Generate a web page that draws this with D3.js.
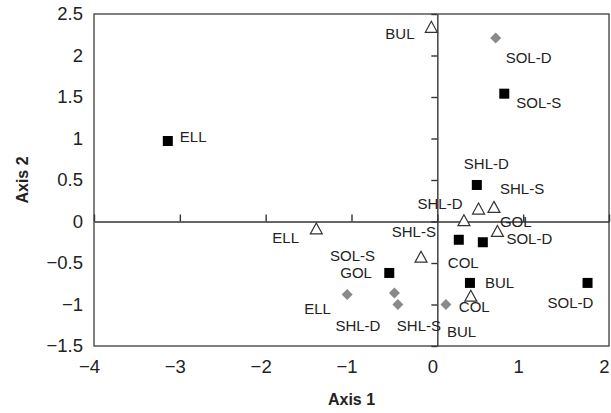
<!DOCTYPE html>
<html>
<head>
<meta charset="utf-8">
<script src="https://cdn.jsdelivr.net/npm/d3@7"></script>
<style>
  body { margin: 0; background: #fff; }
  text { font-family: "Liberation Sans", Arial, sans-serif; }
</style>
</head>
<body>
<svg id="chart" width="611" height="413"></svg>
<script>
// ordination scores, one array per sample type
const squareSites = ['ELL', 'SOL-S', 'SHL-D', 'SHL-S', 'COL', 'GOL', 'BUL', 'SOL-D'];
const squareAxis1 = [-3.14, 0.78, 0.46, 0.25, 0.53, -0.56, 0.38, 1.75];
const squareAxis2 = [0.97, 1.54, 0.44, -0.22, -0.25, -0.62, -0.74, -0.74];

const triangleSites = ['BUL', 'ELL', 'SHL-D', 'SHL-S', 'GOL', 'SOL-D', 'SOL-S', 'COL'];
const triangleAxis1 = [-0.07, -1.41, 0.48, 0.66, 0.31, 0.70, -0.19, 0.39];
const triangleAxis2 = [2.34, -0.09, 0.15, 0.17, 0.01, -0.12, -0.43, -0.90];

const diamondSites = ['SOL-D', 'ELL', 'SHL-D', 'SHL-S', 'BUL'];
const diamondAxis1 = [0.68, -1.05, -0.50, -0.46, 0.10];
const diamondAxis2 = [2.21, -0.88, -0.86, -1.00, -1.00];

const xTicks = [-4, -3, -2, -1, 0, 1, 2];
const yTicks = [-1.5, -1, -0.5, 0, 0.5, 1, 1.5, 2, 2.5];

// pixel nudges for the point labels (same order as the site arrays)
const squareNudge = [[12, -4], [12, 9], [-13, -21], [-67, -8], [-35, 20], [-49, 0], [15, 0], [-40, 20]];
const triangleNudge = [[-46, 6], [-44, 9], [-61, -6], [6, -19], [36, 1], [9, 7], [-91, -2], [-12, 10]];
const diamondNudge = [[10, 19], [-43, 14], [-59, 33], [-1, 21], [1, 27]];

const svg = d3.select('#chart');
const margin = {left: 94, right: 2, top: 14, bottom: 67};
const W = 611, H = 413;

const x = d3.scaleLinear().domain([-4, 2]).range([margin.left, W - margin.right]);
const y = d3.scaleLinear().domain([-1.5, 2.5]).range([H - margin.bottom, margin.top]);

const fmt = d => (d < 0 ? '\u2212' : '') + Math.abs(d);

// tick labels sit outside the frame
svg.append('g')
    .attr('transform', `translate(${margin.left},0)`)
    .call(d3.axisLeft(y).tickValues(yTicks).tickFormat(fmt).tickSize(0).tickPadding(11))
    .call(g => g.select('.domain').remove())
    .call(g => g.selectAll('.tick text')
        .attr('font-size', 18.5).attr('fill', '#222')
        .attr('font-family', '"Liberation Sans", Arial, sans-serif'));

svg.append('g')
    .attr('transform', `translate(-5,${H - margin.bottom})`)
    .call(d3.axisBottom(x).tickValues(xTicks).tickFormat(fmt).tickSize(0).tickPadding(14))
    .call(g => g.select('.domain').remove())
    .call(g => g.selectAll('.tick text')
        .attr('font-size', 18.5).attr('fill', '#222')
        .attr('font-family', '"Liberation Sans", Arial, sans-serif'));

// frame
svg.append('rect')
    .attr('x', margin.left).attr('y', margin.top)
    .attr('width', W - margin.right - margin.left)
    .attr('height', H - margin.bottom - margin.top)
    .attr('fill', 'none').attr('stroke', '#555').attr('stroke-width', 1.5);

// zero lines with small ticks
svg.append('g')
    .attr('transform', `translate(0,${y(0)})`)
    .call(d3.axisTop(x).tickValues(xTicks).tickFormat('').tickSize(7).tickSizeOuter(0))
    .call(g => g.selectAll('path, line').attr('stroke', '#333').attr('stroke-width', 1.4));

svg.append('g')
    .attr('transform', `translate(${x(0)},0)`)
    .call(d3.axisLeft(y).tickValues(yTicks).tickFormat('').tickSize(6).tickSizeOuter(0))
    .call(g => g.selectAll('path, line').attr('stroke', '#333').attr('stroke-width', 1.4));

// axis titles
svg.append('text')
    .attr('x', (x(-4) + x(2)) / 2).attr('y', 405)
    .attr('text-anchor', 'middle')
    .attr('font-size', 16).attr('font-weight', 'bold').attr('fill', '#222')
    .text('Axis 1');

svg.append('text')
    .attr('transform', `translate(28,${(y(-1.5) + y(2.5)) / 2}) rotate(-90)`)
    .attr('text-anchor', 'middle')
    .attr('font-size', 16).attr('font-weight', 'bold').attr('fill', '#222')
    .text('Axis 2');

function build(sites, a1, a2, nudge) {
  return sites.map((s, i) => ({site: s, a1: a1[i], a2: a2[i], dx: nudge[i][0], dy: nudge[i][1]}));
}

const squares = build(squareSites, squareAxis1, squareAxis2, squareNudge);
const triangles = build(triangleSites, triangleAxis1, triangleAxis2, triangleNudge);
const diamonds = build(diamondSites, diamondAxis1, diamondAxis2, diamondNudge);

const marks = svg.append('g');

marks.selectAll('path.diamond')
    .data(diamonds)
    .enter().append('path')
    .attr('class', 'diamond')
    .attr('d', 'M0,-5.5L5.5,0L0,5.5L-5.5,0Z')
    .attr('transform', d => `translate(${x(d.a1)},${y(d.a2)})`)
    .attr('fill', '#8a8a8a');

marks.selectAll('rect.square')
    .data(squares)
    .enter().append('rect')
    .attr('class', 'square')
    .attr('x', d => x(d.a1) - 5).attr('y', d => y(d.a2) - 5)
    .attr('width', 10).attr('height', 10)
    .attr('fill', '#000');

marks.selectAll('path.triangle')
    .data(triangles)
    .enter().append('path')
    .attr('class', 'triangle')
    .attr('d', 'M0,-6L6,5L-6,5Z')
    .attr('transform', d => `translate(${x(d.a1)},${y(d.a2)})`)
    .attr('fill', '#fff').attr('stroke', '#333').attr('stroke-width', 1.2);

const labels = svg.append('g');
[squares, triangles, diamonds].forEach(set => {
  labels.selectAll(null)
      .data(set)
      .enter().append('text')
      .attr('x', d => x(d.a1) + d.dx)
      .attr('y', d => y(d.a2) + d.dy)
      .attr('dominant-baseline', 'central')
      .attr('font-size', 15).attr('fill', '#222')
      .text(d => d.site);
});
</script>
</body>
</html>
